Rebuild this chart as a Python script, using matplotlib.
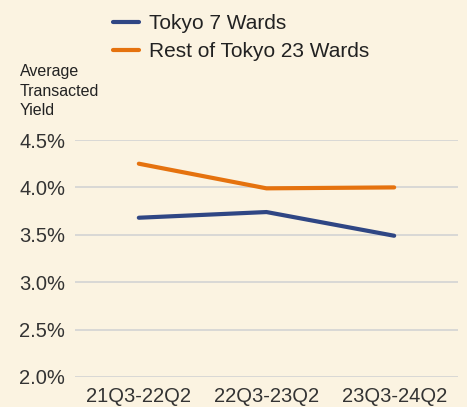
import matplotlib
matplotlib.use("Agg")
import matplotlib.pyplot as plt

categories = ["21Q3-22Q2", "22Q3-23Q2", "23Q3-24Q2"]
tokyo7 = [3.68, 3.74, 3.49]
rest23 = [4.25, 3.99, 4.00]
series_names = ["Tokyo 7 Wards", "Rest of Tokyo 23 Wards"]
yticks = [2.0, 2.5, 3.0, 3.5, 4.0, 4.5]
ytick_labels = ["2.0%", "2.5%", "3.0%", "3.5%", "4.0%", "4.5%"]

plt.rcParams['font.family'] = ['Liberation Sans', 'DejaVu Sans']
bg = "#FBF3E1"
W, H = 467, 407
fig = plt.figure(figsize=(W/100, H/100), dpi=100, facecolor=bg)
ax = fig.add_axes([75/W, 1-377/H, (458-75)/W, (377-140)/H], facecolor=bg)

x = list(range(len(categories)))
l1, = ax.plot(x, tokyo7, color="#2F4684", lw=3, solid_capstyle="round")
l2, = ax.plot(x, rest23, color="#E5720E", lw=3, solid_capstyle="round")

ax.set_xlim(-0.5, 2.5)
ax.set_ylim(2.0, 4.5)
ax.set_yticks(yticks)
ax.set_yticklabels(ytick_labels)
ax.set_xticks(x)
ax.set_xticklabels(categories)
ax.tick_params(axis="both", length=0, labelsize=14.5, colors="#333333")
ax.tick_params(axis="y", pad=7)
ax.tick_params(axis="x", pad=7)
for s in ax.spines.values():
    s.set_visible(False)
ax.grid(axis="y", color="#D3D3D3", lw=1.2)
ax.set_axisbelow(True)
for ln in (l1, l2):
    ln.set_clip_on(False)

fig.text(20/W, 1-64/H, "Average\nTransacted\nYield", fontsize=11.5, color="#222222",
         va="top", ha="left", linespacing=1.38)

fig.legend([l1, l2], series_names, loc="upper left", bbox_to_anchor=(113/W, 1-14/H),
           frameon=False, fontsize=15, handlelength=1.25, handletextpad=0.48,
           labelspacing=0.45, labelcolor="#222222", borderpad=0, borderaxespad=0)

fig.savefig("out.png", dpi=100, facecolor=bg)
